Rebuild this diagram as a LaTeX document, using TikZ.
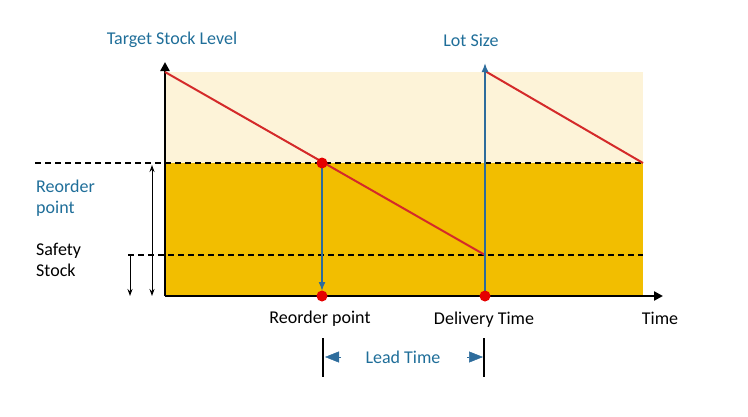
\documentclass[tikz,border=0pt]{standalone}
\usepackage{fontspec}
\setmainfont{Carlito}
\usetikzlibrary{arrows.meta}
\definecolor{lightgold}{HTML}{FDF3D8}
\definecolor{gold}{HTML}{F2BE00}
\definecolor{stockred}{HTML}{D42A2A}
\definecolor{leadblue}{HTML}{2D6C9C}
\definecolor{labelblue}{HTML}{1F6E99}
\tikzset{
  dot/.style={circle, fill=red!90!black, inner sep=0pt, minimum size=11pt},
  level/.style={dash pattern=on 6pt off 4pt, line width=1.3pt},
  qty/.style={line width=1pt, {Stealth[length=7pt,width=5pt]}-{Stealth[length=7pt,width=5pt]}},
  bluetext/.style={text=labelblue},
  txt/.style={font=\fontsize{18}{21}\selectfont}
}
\begin{document}
\begin{tikzpicture}[x=1pt, y=-1pt, txt]
\useasboundingbox (0,0) rectangle (748,416);

    %areas
    \fill[lightgold] (165,72) rectangle (643,163);
    \fill[gold] (165,163) rectangle (643,296);

    %levels (dashed)
    \coordinate (rl) at (35,163);
    \coordinate (rr) at (643,163);
    \coordinate (sl) at (128,255);
    \coordinate (sr) at (643,255);
    \draw[level] (rl) -- (rr);
    \draw[level] (sl) -- (sr);

    %axis
    \coordinate (o) at (165,296);
    \coordinate (ytop) at (165,62);
    \coordinate (xend) at (663,296);
    \draw[line width=2.6pt, -{Triangle[length=9pt,width=9pt]}] (o) -- (ytop);
    \draw[line width=2.6pt, -{Triangle[length=9pt,width=9pt]}] (o) -- (xend);

    %stock lines
    \coordinate (top1) at (165,72);
    \coordinate (low) at (485,255);
    \coordinate (top2) at (485,71);
    \coordinate (end) at (643,163);
    \draw[stockred, line width=2pt] (top1) -- (low);
    \draw[stockred, line width=2pt] (top2) -- (end);

    %orders
    \coordinate (rp) at (322,163);
    \coordinate (rpx) at (322,296);
    \coordinate (dt) at (485,296);
    \coordinate (lot) at (485,63);
    \draw[leadblue, line width=1.6pt, -{Latex[length=9pt,width=7pt]}, shorten >=5pt] (rp) -- (rpx);
    \draw[leadblue, line width=1.6pt, -{Latex[length=9pt,width=7pt]}] (dt) -- (lot);
    \node[dot] (rpdot) at (rp) {};
    \node[dot] (rpxdot) at (rpx) {};
    \node[dot] (dtdot) at (dt) {};

    %quantities
    \coordinate (qa) at (152,165);
    \coordinate (qb) at (152,296);
    \coordinate (sa) at (130,255);
    \coordinate (sb) at (130,296);
    \draw[qty] (qa) -- (qb);
    \draw[line width=1pt, -{Stealth[length=7pt,width=5pt]}] (sa) -- (sb);

    %lead time
    \coordinate (la) at (323,338);
    \coordinate (lb) at (323,377);
    \coordinate (ra) at (484,338);
    \coordinate (rb) at (484,377);
    \draw[line width=1.3pt] (la) -- (lb);
    \draw[line width=1.3pt] (ra) -- (rb);
    \node[bluetext] (lead) at (403,357) {Lead Time};
    \coordinate (lhs) at (341,357);
    \coordinate (lhe) at (325,357);
    \coordinate (rhs) at (467,357);
    \coordinate (rhe) at (483,357);
    \draw[leadblue, line width=0.5pt, -{Triangle[length=14pt,width=11pt]}] (lhs) -- (lhe);
    \draw[leadblue, line width=0.5pt, -{Triangle[length=14pt,width=11pt]}] (rhs) -- (rhe);

    %labels
    \node[bluetext] (tsl) at (172,40) {Target Stock Level};
    \node[bluetext] (lots) at (471,40) {Lot Size};
    \node[bluetext, anchor=west, align=left, inner sep=0pt] (rop) at (36,198) {Reorder\\point};
    \node[anchor=west, align=left, inner sep=0pt] (ss) at (36,260) {Safety\\Stock};
    \node (rplab) at (320,319) {Reorder point};
    \node (dtlab) at (484,320) {Delivery Time};
    \node (tlab) at (660,318) {Time};

\end{tikzpicture}
\end{document}
